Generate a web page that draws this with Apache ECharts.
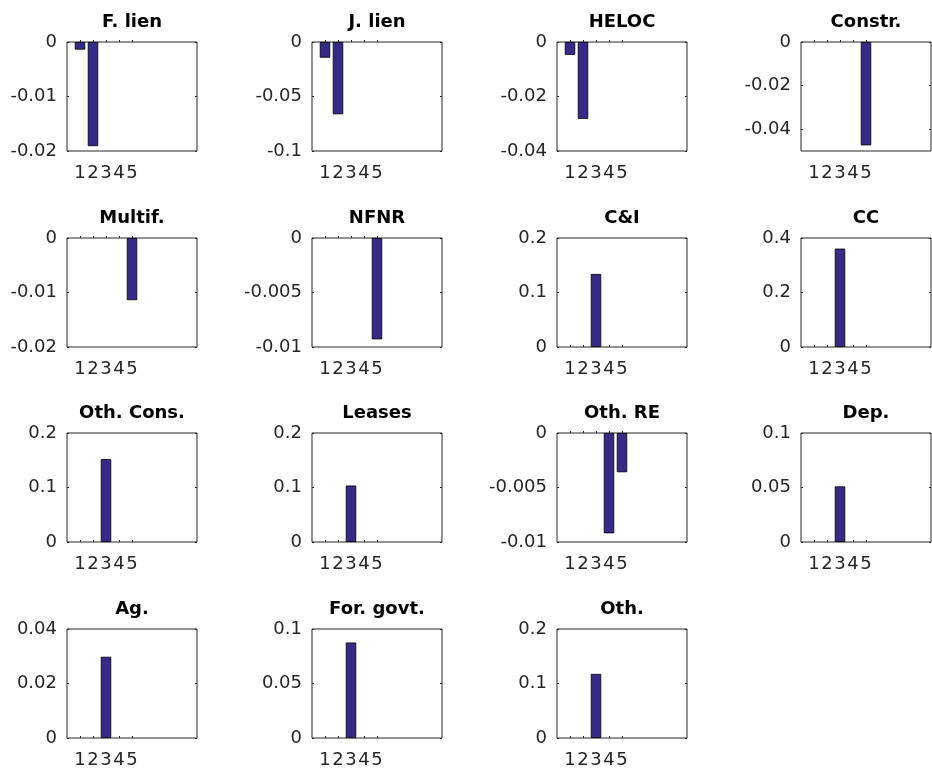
<!DOCTYPE html>
<html><head><meta charset="utf-8">
<script src="https://cdn.jsdelivr.net/npm/echarts@6/dist/echarts.min.js"></script>
<style>html,body{margin:0;padding:0;background:#fff}#c{width:932px;height:773px}</style>
</head><body><div id="c"></div>
<script>
const titles = ['F. lien', 'J. lien', 'HELOC', 'Constr.', 'Multif.', 'NFNR', 'C&I', 'CC',
  'Oth. Cons.', 'Leases', 'Oth. RE', 'Dep.', 'Ag.', 'For. govt.', 'Oth.'];
const positions = [1, 2, 3, 4, 5];
const xTickLabels = ['1', '2', '3', '4', '5'];

const fLien   = [-0.0014, -0.0191, 0, 0, 0];
const jLien   = [-0.0144, -0.0663, 0, 0, 0];
const heloc   = [-0.0047, -0.0282, 0, 0, 0];
const constr  = [0, 0, 0, 0, -0.0474];
const multif  = [0, 0, 0, 0, -0.0114];
const nfnr    = [0, 0, 0, 0, -0.0093];
const cAndI   = [0, 0, 0.134, 0, 0];
const cc      = [0, 0, 0.361, 0, 0];
const othCons = [0, 0, 0.152, 0, 0];
const leases  = [0, 0, 0.1036, 0, 0];
const othRE   = [0, 0, 0, -0.0092, -0.0036];
const dep     = [0, 0, 0.051, 0, 0];
const ag      = [0, 0, 0.0298, 0, 0];
const forGovt = [0, 0, 0.0876, 0, 0];
const oth     = [0, 0, 0.1176, 0, 0];

const panelValues = [fLien, jLien, heloc, constr, multif, nfnr, cAndI, cc,
  othCons, leases, othRE, dep, ag, forGovt, oth];

const yTicks = [
  [-0.02, -0.01, 0], [-0.1, -0.05, 0], [-0.04, -0.02, 0], [-0.04, -0.02, 0],
  [-0.02, -0.01, 0], [-0.01, -0.005, 0], [0, 0.1, 0.2], [0, 0.2, 0.4],
  [0, 0.1, 0.2], [0, 0.1, 0.2], [-0.01, -0.005, 0], [0, 0.05, 0.1],
  [0, 0.02, 0.04], [0, 0.05, 0.1], [0, 0.1, 0.2]
];
const yMin = [-0.02, -0.1, -0.04, -0.05, -0.02, -0.01, 0, 0, 0, 0, -0.01, 0, 0, 0, 0];
const yMax = [0, 0, 0, 0, 0, 0, 0.2, 0.4, 0.2, 0.2, 0, 0.1, 0.04, 0.1, 0.2];
const xMin = 0, xMax = 10;

// layout
const colLeft = [67, 312, 557, 801];
const rowTop = [42, 238, 433, 629];
const gw = 130, gh = 109;
const FONT = '"DejaVu Sans", "Liberation Sans", Arial, sans-serif';
const AX = '#262626';

const grid = [], xAxis = [], yAxis = [], series = [], graphic = [];
panelValues.forEach((vals, i) => {
  const r = Math.floor(i / 4), c = i % 4;
  grid.push({ left: colLeft[c], top: rowTop[r], width: gw, height: gh,
    show: true, borderColor: AX, borderWidth: 1, backgroundColor: '#fff', containLabel: false });
  xAxis.push({
    type: 'value', gridIndex: i, min: xMin, max: xMax,
    axisLine: { show: false }, splitLine: { show: false },
    axisTick: { show: true, inside: true, length: 2, customValues: positions, lineStyle: { color: AX } },
    axisLabel: { show: true, customValues: positions, margin: 13, fontSize: 18, fontFamily: FONT, color: AX,
      formatter: v => xTickLabels[positions.indexOf(v)] }
  });
  yAxis.push({
    type: 'value', gridIndex: i, min: yMin[i], max: yMax[i], position: 'left',
    axisLine: { show: false }, splitLine: { show: false },
    axisTick: { show: true, inside: true, length: 2, customValues: yTicks[i], lineStyle: { color: AX } },
    axisLabel: { show: true, customValues: yTicks[i], margin: 10, fontSize: 18, fontFamily: FONT, color: AX,
      formatter: v => String(v) }
  });
  yAxis.push({
    type: 'value', gridIndex: i, min: yMin[i], max: yMax[i], position: 'right',
    axisLine: { show: false }, splitLine: { show: false },
    axisTick: { show: true, inside: true, length: 2, customValues: yTicks[i], lineStyle: { color: AX } },
    axisLabel: { show: false }
  });
  series.push({
    type: 'bar', xAxisIndex: i, yAxisIndex: 2 * i, barWidth: 10.4,
    // zero-height bars are invisible in the reference, so they are skipped
    data: positions.map((p, j) => [p, vals[j] === 0 ? '-' : vals[j]]),
    itemStyle: { color: '#352A87', borderColor: '#000', borderWidth: 0.8 },
    emphasis: { disabled: true }
  });
  graphic.push({
    type: 'text', x: colLeft[c] + gw / 2, y: rowTop[r] - 20,
    style: { text: titles[i], align: 'center', verticalAlign: 'middle',
      font: 'bold 18px ' + FONT, fill: '#000' }
  });
});

const chart = echarts.init(document.getElementById('c'), null, { renderer: 'canvas' });
chart.setOption({
  animation: false,
  backgroundColor: '#fff',
  grid, xAxis, yAxis, series, graphic
});
</script>
</body></html>
